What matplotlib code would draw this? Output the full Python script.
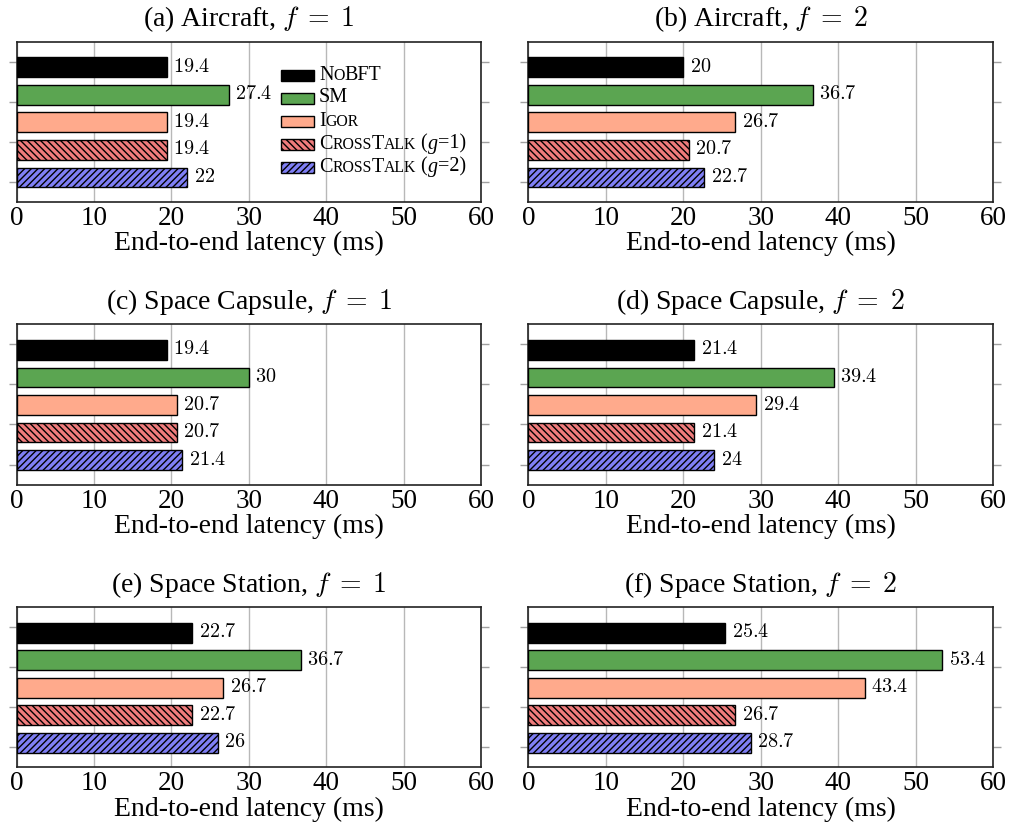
import matplotlib
matplotlib.use("Agg")
import matplotlib.pyplot as plt
from matplotlib.offsetbox import HPacker, TextArea, DrawingArea, AnchoredOffsetbox
from matplotlib.patches import Rectangle

plt.rcParams["font.family"] = ["Liberation Serif", "DejaVu Serif"]
plt.rcParams["mathtext.fontset"] = "cm"
plt.rcParams["hatch.linewidth"] = 1.0

# ---- data ----
systems = ["NoBFT", "SM", "Igor", "CrossTalk (g=1)", "CrossTalk (g=2)"]
panel_titles = [
    r"(a) Aircraft, $f\;=\;1$", r"(b) Aircraft, $f\;=\;2$",
    r"(c) Space Capsule, $f\;=\;1$", r"(d) Space Capsule, $f\;=\;2$",
    r"(e) Space Station, $f\;=\;1$", r"(f) Space Station, $f\;=\;2$",
]
aircraft_f1 = [19.4, 27.4, 19.4, 19.4, 22]
aircraft_f2 = [20, 36.7, 26.7, 20.7, 22.7]
capsule_f1 = [19.4, 30, 20.7, 20.7, 21.4]
capsule_f2 = [21.4, 39.4, 29.4, 21.4, 24]
station_f1 = [22.7, 36.7, 26.7, 22.7, 26]
station_f2 = [25.4, 53.4, 43.4, 26.7, 28.7]
panel_values = [aircraft_f1, aircraft_f2, capsule_f1, capsule_f2, station_f1, station_f2]
x_ticks = [0, 10, 20, 30, 40, 50, 60]
x_label = "End-to-end latency (ms)"

# ---- styles ----
face_colors = ["#000000", "#5ba551", "#ffaa8c", "#f07c7c", "#7f7ff5"]
hatches = [None, None, None, "\\\\\\\\\\", "/////"]

W, H = 1010, 827
fig = plt.figure(figsize=(W / 100, H / 100), dpi=100)

col_left = [16.5, 528.3]
ax_w = 464.8
row_top = [41.7, 324.3, 607.0]
ax_h = 160.3

y_lo, y_hi = -0.93, 4.89
bar_h = 0.72

axes = []
for i, (title, vals) in enumerate(zip(panel_titles, panel_values)):
    r, c = divmod(i, 2)
    x0 = col_left[c]
    y0 = row_top[r]
    ax = fig.add_axes([x0 / W, 1 - (y0 + ax_h) / H, ax_w / W, ax_h / H])
    axes.append(ax)
    pos = list(range(len(vals)))
    for p, v, fc, hat in zip(pos, vals, face_colors, hatches):
        ax.barh(p, v, height=bar_h, color=fc, edgecolor="black",
                linewidth=1.0, hatch=hat, zorder=3)
        ax.text(v + 0.85, p, f"${v:g}$", va="center", ha="left",
                fontsize=14.5, zorder=4)
    ax.set_xlim(0, 60)
    ax.set_ylim(y_hi, y_lo)
    ax.set_xticks(x_ticks)
    ax.set_xticklabels([str(t) for t in x_ticks], fontsize=19.5)
    ax.tick_params(axis="x", length=0, pad=3)
    span = y_hi - y_lo
    ax.set_yticks([y_lo + span * k / 8 for k in (1, 3, 5, 7)])
    ax.set_yticklabels([])
    ax.tick_params(axis="y", left=True, right=True, direction="out",
                   length=6, width=1.0, color="#a0a0a0")
    ax.grid(axis="x", color="#b8b8b8", linewidth=1.0, zorder=0)
    ax.set_axisbelow(True)
    for s in ax.spines.values():
        s.set_color("#222222")
        s.set_linewidth(1.2)
    ax.set_title(title, fontsize=20, pad=11)
    ax.set_xlabel(x_label, fontsize=20, labelpad=0)

# ---- legend with small-caps labels ----
BIG, SMALL = 14.5, 14.5 * 0.78
label_parts = [
    [("N", "b"), ("O", "s"), ("BFT", "b")],
    [("SM", "b")],
    [("I", "b"), ("GOR", "s")],
    [("C", "b"), ("ROSS", "s"), ("T", "b"), ("ALK", "s"), (" (", "b"), ("g", "i"), ("=1)", "b")],
    [("C", "b"), ("ROSS", "s"), ("T", "b"), ("ALK", "s"), (" (", "b"), ("g", "i"), ("=2)", "b")],
]

def text_piece(s, kind):
    props = dict(fontsize=SMALL if kind == "s" else BIG, color="black",
                 family=["Liberation Serif"])
    if kind == "i":
        props["style"] = "italic"
    return TextArea(s, textprops=props)

ax0 = axes[0]
pt = 72 / 100
legend_rows_y = [75, 98, 121, 144, 167]
for parts, fc, hat, yrow in zip(label_parts, face_colors, hatches, legend_rows_y):
    da = DrawingArea(33 * pt, 11 * pt, 0, 0)
    da.add_artist(Rectangle((0, 0), 33 * pt, 11 * pt, facecolor=fc,
                            edgecolor="black", linewidth=1.0, hatch=hat))
    txt = HPacker(children=[text_piece(s, k) for s, k in parts],
                  align="baseline", pad=0, sep=0)
    row = HPacker(children=[da, txt], align="center", pad=0, sep=5 * pt)
    box = AnchoredOffsetbox(loc="center left", child=row, pad=0, borderpad=0,
                            frameon=False,
                            bbox_to_anchor=(281 / W, 1 - yrow / H),
                            bbox_transform=fig.transFigure)
    ax0.add_artist(box)

fig.savefig("out.png", dpi=100)
